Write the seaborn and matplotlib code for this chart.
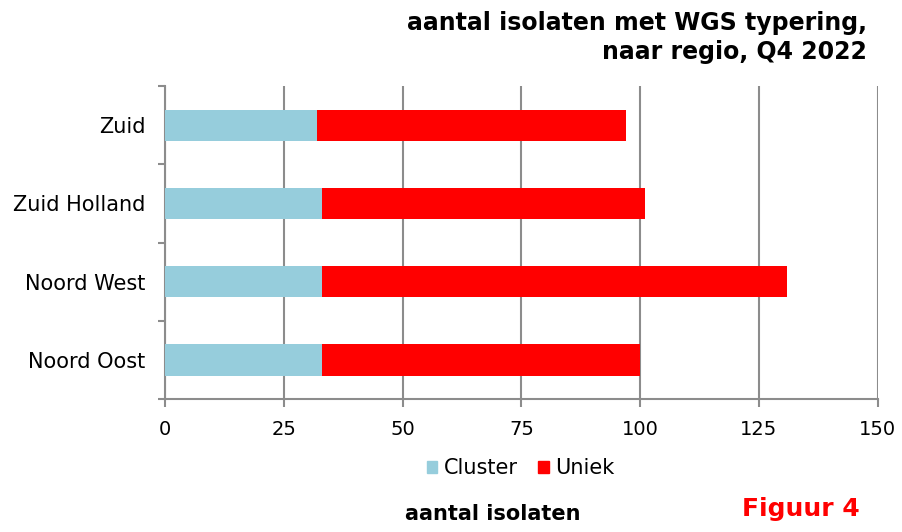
import matplotlib
matplotlib.use("Agg")
import matplotlib.pyplot as plt
import seaborn as sns
import pandas as pd
from matplotlib.patches import Patch

sns.set_style("white")
plt.rcParams['font.family'] = ['DejaVu Sans']
plt.rcParams['text.color'] = 'black'
plt.rcParams['xtick.color'] = 'black'
plt.rcParams['ytick.color'] = 'black'

# ---------------- DATA ---------------- #
regions = ["Zuid", "Zuid Holland", "Noord West", "Noord Oost"]
cluster = [32, 33, 33, 33]
uniek = [65, 68, 98, 67]
xticks = [0, 25, 50, 75, 100, 125, 150]

df = pd.DataFrame({"regio": regions, "Cluster": cluster, "Uniek": uniek})
df["totaal"] = df["Cluster"] + df["Uniek"]

blue = "#96CDDC"
red = "#FF0000"
grey = "#8C8C8C"

# ---------------- PLOT ---------------- #
fig = plt.figure(figsize=(9.02, 5.32), dpi=100)
ax = fig.add_axes([0.183, 0.25, 0.79, 0.588])

# stacked: total in red, cluster drawn over it
sns.barplot(data=df, x="totaal", y="regio", order=regions, color=red,
            width=0.4, saturation=1, linewidth=0, ax=ax, zorder=3)
sns.barplot(data=df, x="Cluster", y="regio", order=regions, color=blue,
            width=0.4, saturation=1, linewidth=0, ax=ax, zorder=4)

ax.set_xlim(0, 150)
ax.set_ylim(3.5, -0.5)
ax.set_xticks(xticks)
ax.set_xticklabels([str(t) for t in xticks], fontsize=14)
ax.set_yticks(range(len(regions)))
ax.set_yticklabels(regions, fontsize=15)
ax.set_yticks([i - 0.5 for i in range(len(regions) + 1)], minor=True)
ax.tick_params(axis="y", which="major", left=False, length=0, pad=14)
ax.tick_params(axis="y", which="minor", left=True, length=5, color=grey,
               width=1.5, direction="out")
ax.tick_params(axis="x", bottom=True, length=6, color=grey, width=1.5,
               direction="out", pad=9)
ax.set_xlabel("")
ax.set_ylabel("")

ax.grid(axis="x", color=grey, linewidth=1.5, zorder=0)
ax.set_axisbelow(True)
for s in ["top", "right"]:
    ax.spines[s].set_visible(False)
for s in ["left", "bottom"]:
    ax.spines[s].set_color(grey)
    ax.spines[s].set_linewidth(1.5)

# title
fig.text(0.961, 0.930, "aantal isolaten met WGS typering,\nnaar regio, Q4 2022",
         ha="right", va="center", fontsize=17, fontweight="bold", linespacing=1.25)

# legend
handles = [Patch(color=blue, label="Cluster"), Patch(color=red, label="Uniek")]
fig.legend(handles=handles, loc="center", bbox_to_anchor=(0.577, 0.12), ncol=2,
           frameon=False, fontsize=15, handlelength=0.5, handleheight=0.5,
           handletextpad=0.3, columnspacing=1.0)

fig.text(0.546, 0.034, "aantal isolaten", ha="center", va="center",
         fontsize=15, fontweight="bold")
fig.text(0.888, 0.043, "Figuur 4", ha="center", va="center",
         fontsize=18, fontweight="bold", color=red)

fig.savefig("out.png", dpi=100)
